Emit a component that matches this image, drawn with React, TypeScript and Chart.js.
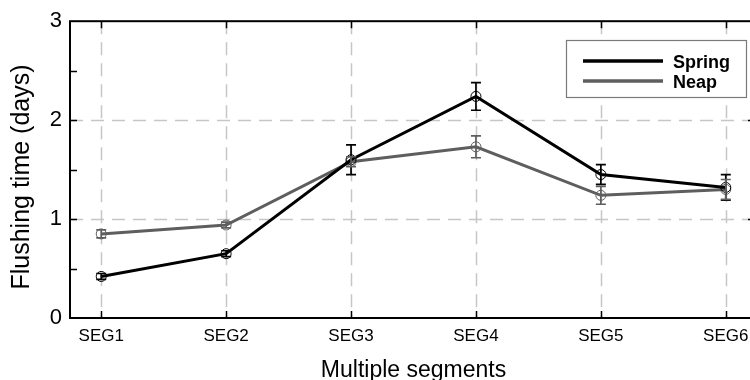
import React, { useEffect, useRef } from 'react';
import { Chart, registerables } from 'chart.js';

Chart.register(...registerables);

const segments = ['SEG1', 'SEG2', 'SEG3', 'SEG4', 'SEG5', 'SEG6'];
const springValues = [0.42, 0.65, 1.6, 2.24, 1.45, 1.32];
const springErrors = [0.03, 0.03, 0.15, 0.14, 0.1, 0.13];
const neapValues = [0.85, 0.94, 1.58, 1.73, 1.24, 1.3];
const neapErrors = [0.04, 0.03, 0.05, 0.11, 0.09, 0.1];
const yTickValues = [0, 1, 2, 3];
const yMinorTickValues = [0.5, 1, 1.5, 2, 2.5];
const yGridValues = [1, 2];
const seriesNames = ['Spring', 'Neap'];
const xAxisTitle = 'Multiple segments';
const yAxisTitle = 'Flushing time (days)';

const SPRING_COLOR = '#000000';
const NEAP_COLOR = '#5e5e5e';
const FONT = "'Liberation Sans', Arial, sans-serif";

const errorSets = [springErrors, neapErrors];

const framePlugin = {
  id: 'framePlugin',
  beforeDatasetsDraw(chart: any) {
    const { ctx, chartArea: a, scales } = chart;
    const x = scales.x;
    const y = scales.y;
    ctx.save();
    ctx.strokeStyle = '#c6c6c6';
    ctx.lineWidth = 1.5;
    ctx.setLineDash([13, 8]);
    segments.forEach((_, i) => {
      const px = Math.round(x.getPixelForValue(i + 1)) + 0.5;
      ctx.beginPath();
      ctx.moveTo(px, a.top);
      ctx.lineTo(px, a.bottom);
      ctx.stroke();
    });
    yGridValues.forEach((v) => {
      const py = Math.round(y.getPixelForValue(v)) + 0.5;
      ctx.beginPath();
      ctx.moveTo(a.left, py);
      ctx.lineTo(a.right, py);
      ctx.stroke();
    });
    ctx.restore();
  },
  afterDatasetsDraw(chart: any) {
    const { ctx, chartArea: a, scales } = chart;
    const x = scales.x;
    const y = scales.y;
    ctx.save();
    // error bars
    chart.data.datasets.forEach((ds: any, di: number) => {
      const errs = errorSets[di];
      ctx.strokeStyle = ds.borderColor;
      ctx.lineWidth = 1.7;
      ds.data.forEach((p: any, i: number) => {
        const px = x.getPixelForValue(p.x);
        const top = y.getPixelForValue(p.y + errs[i]);
        const bot = y.getPixelForValue(p.y - errs[i]);
        ctx.beginPath();
        ctx.moveTo(px, top);
        ctx.lineTo(px, bot);
        ctx.moveTo(px - 5, top);
        ctx.lineTo(px + 5, top);
        ctx.moveTo(px - 5, bot);
        ctx.lineTo(px + 5, bot);
        ctx.stroke();
      });
    });
    // frame
    ctx.strokeStyle = '#000';
    ctx.lineWidth = 2;
    ctx.strokeRect(a.left, a.top, a.right - a.left, a.bottom - a.top);
    // inward ticks
    ctx.lineWidth = 1.5;
    segments.forEach((_, i) => {
      const px = Math.round(x.getPixelForValue(i + 1)) + 0.5;
      ctx.beginPath();
      ctx.moveTo(px, a.bottom);
      ctx.lineTo(px, a.bottom - 7);
      ctx.moveTo(px, a.top);
      ctx.lineTo(px, a.top + 7);
      ctx.stroke();
    });
    yMinorTickValues.forEach((v) => {
      const py = Math.round(y.getPixelForValue(v)) + 0.5;
      const major = Number.isInteger(v);
      ctx.beginPath();
      ctx.moveTo(a.left, py);
      ctx.lineTo(a.left + 7, py);
      ctx.moveTo(a.right, py);
      ctx.lineTo(a.right - (major ? 9 : 6), py);
      ctx.stroke();
    });
    // legend
    const lx = 566, ly = 40, lw = 180, lh = 57;
    ctx.fillStyle = '#fff';
    ctx.fillRect(lx, ly, lw, lh);
    ctx.strokeStyle = '#7a7a7a';
    ctx.lineWidth = 1.2;
    ctx.strokeRect(lx + 0.5, ly + 0.5, lw, lh);
    chart.data.datasets.forEach((ds: any, di: number) => {
      const rowY = 61 + di * 20;
      ctx.strokeStyle = ds.borderColor;
      ctx.lineWidth = 3.5;
      ctx.beginPath();
      ctx.moveTo(583, rowY);
      ctx.lineTo(663, rowY);
      ctx.stroke();
      ctx.fillStyle = '#000';
      ctx.font = `bold 18px ${FONT}`;
      ctx.textAlign = 'left';
      ctx.textBaseline = 'alphabetic';
      ctx.fillText(ds.label, 673, rowY + 7);
    });
    // y title
    ctx.translate(22, 177);
    ctx.rotate(-Math.PI / 2);
    ctx.fillStyle = '#000';
    ctx.font = `25px ${FONT}`;
    ctx.textAlign = 'center';
    ctx.textBaseline = 'middle';
    ctx.fillText(yAxisTitle, 0, 0);
    ctx.restore();
  },
};

export default function App() {
  const ref = useRef<HTMLCanvasElement | null>(null);
  useEffect(() => {
    if (!ref.current) return;
    const chart = new Chart(ref.current, {
      type: 'line',
      data: {
        datasets: [
          {
            label: seriesNames[0],
            data: springValues.map((v, i) => ({ x: i + 1, y: v })),
            borderColor: SPRING_COLOR,
            backgroundColor: 'transparent',
            borderWidth: 3,
            pointRadius: 5,
            pointBorderWidth: 1,
            pointBorderColor: SPRING_COLOR,
            pointBackgroundColor: 'transparent',
            tension: 0,
          },
          {
            label: seriesNames[1],
            data: neapValues.map((v, i) => ({ x: i + 1, y: v })),
            borderColor: NEAP_COLOR,
            backgroundColor: 'transparent',
            borderWidth: 3,
            pointRadius: 5,
            pointBorderWidth: 1,
            pointBorderColor: NEAP_COLOR,
            pointBackgroundColor: 'transparent',
            tension: 0,
          },
        ],
      },
      options: {
        responsive: false,
        animation: false,
        devicePixelRatio: 1,
        layout: { padding: { top: 19, right: 13, left: 0, bottom: 0 } },
        plugins: { legend: { display: false }, tooltip: { enabled: false } },
        scales: {
          x: {
            type: 'linear',
            min: 0.75,
            max: 6.25,
            afterFit: (s: any) => { s.height = 62; },
            afterBuildTicks: (s: any) => { s.ticks = segments.map((_, i) => ({ value: i + 1 })); },
            grid: { display: false, drawTicks: false },
            border: { display: false },
            ticks: {
              autoSkip: false,
              maxRotation: 0,
              padding: 8,
              color: '#000',
              font: { family: FONT, size: 17 },
              callback: (v: any) => segments[Number(v) - 1] ?? '',
            },
            title: {
              display: true,
              text: xAxisTitle,
              color: '#000',
              font: { family: FONT, size: 23 },
              padding: { top: 0, bottom: -4 },
            },
          },
          y: {
            min: 0,
            max: 3,
            afterFit: (s: any) => { s.width = 70; },
            afterBuildTicks: (s: any) => { s.ticks = yTickValues.map((v) => ({ value: v })); },
            grid: { display: false, drawTicks: false },
            border: { display: false },
            ticks: {
              padding: 8,
              color: '#000',
              font: { family: FONT, size: 22 },
              callback: (v: any) => String(v),
            },
          },
        },
      },
      plugins: [framePlugin],
    } as any);
    return () => chart.destroy();
  }, []);
  return (
    <div style={{ position: 'fixed', left: 0, top: 0, width: 750, height: 380, overflow: 'hidden', background: '#fff' }}>
      <canvas ref={ref} width={770} height={380} style={{ width: 770, height: 380, display: 'block' }} />
    </div>
  );
}
